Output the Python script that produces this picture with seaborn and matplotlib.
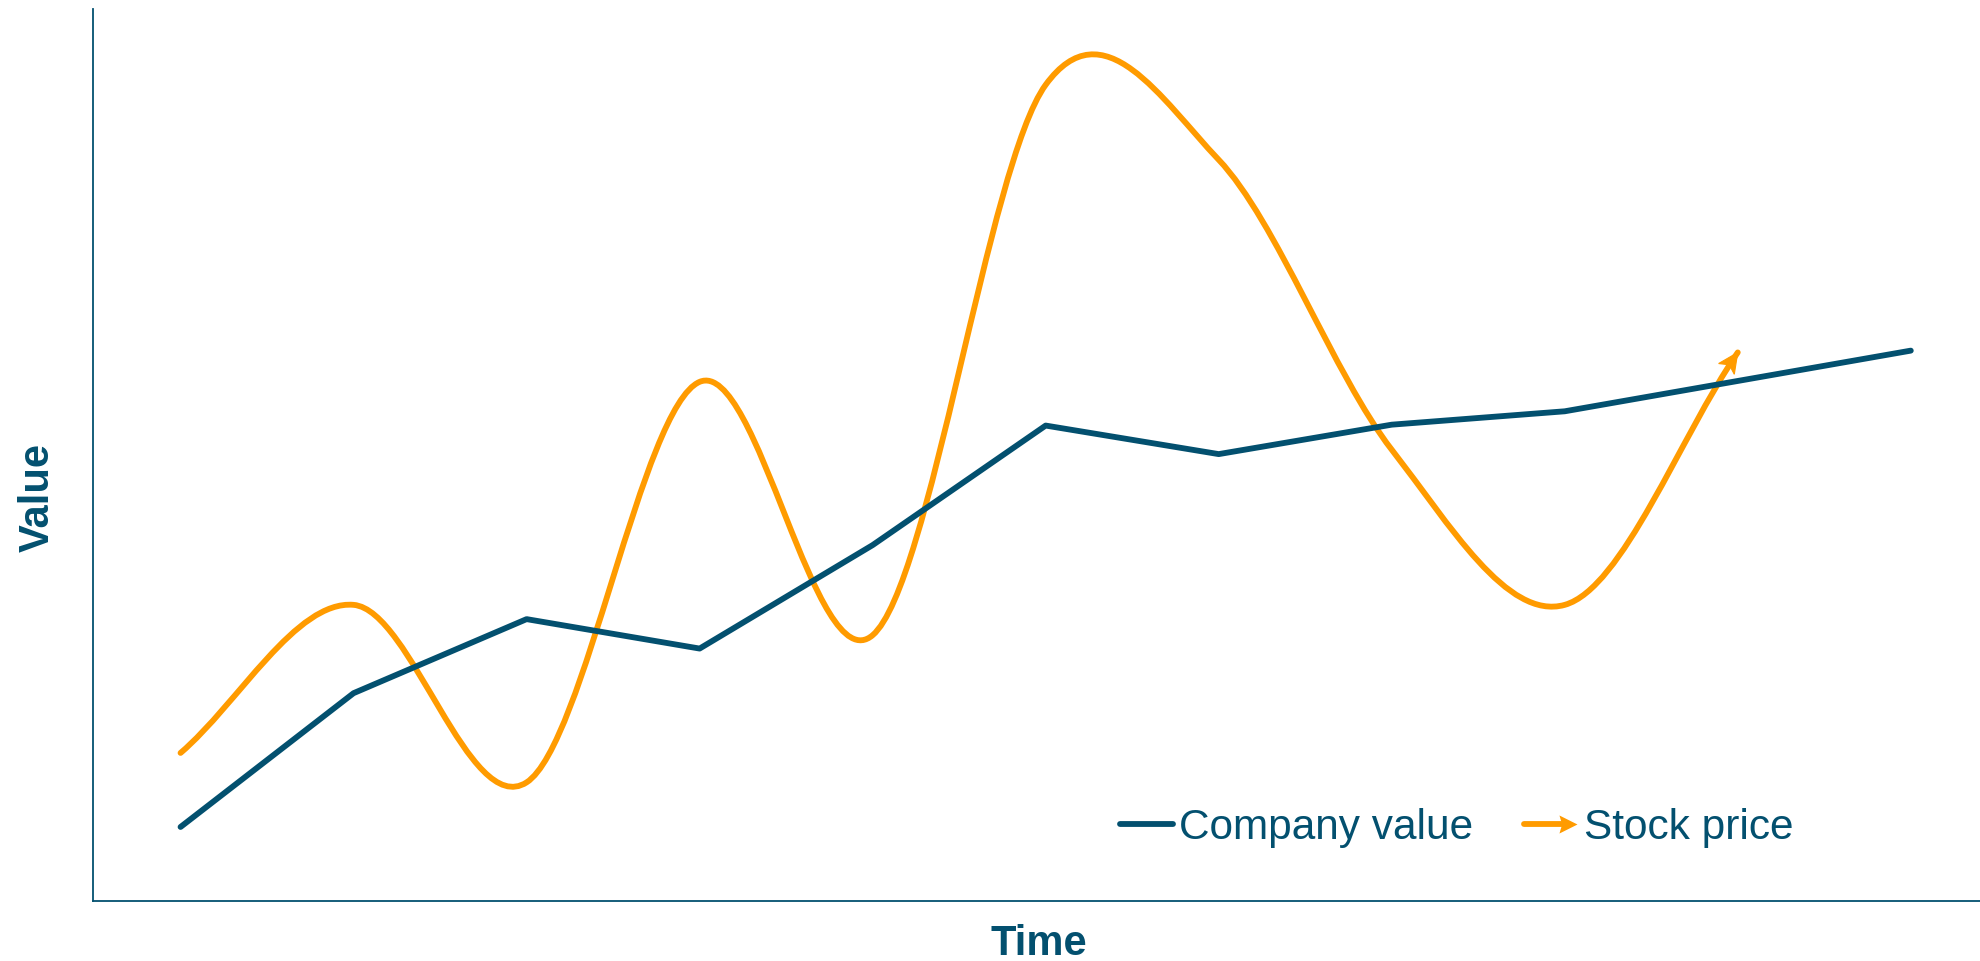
import numpy as np
import pandas as pd
import matplotlib
matplotlib.use("Agg")
import matplotlib.pyplot as plt
import seaborn as sns
from matplotlib.path import Path
from matplotlib.patches import PathPatch, Polygon
from matplotlib.legend_handler import HandlerBase
from matplotlib.lines import Line2D
from matplotlib.transforms import Affine2D

# ---- data ----
company_time = [0, 1, 2, 3, 4, 5, 6, 7, 8, 10]
company_value = [8.3, 23.3, 31.6, 28.3, 39.9, 53.3, 50.1, 53.4, 54.9, 61.7]
stock_time = [0, 1, 2, 3, 4, 5, 6, 7, 8, 9]
stock_value = [16.6, 33.2, 13.3, 58.2, 29.8, 91.5, 83.1, 50.6, 33.2, 61.5]
series_labels = ["Company value", "Stock price"]
x_label = "Time"
y_label = "Value"

BLUE = "#03506f"
ORANGE = "#ff9b00"
LW = 4.2

sns.set_theme(style="white")
plt.rcParams["font.family"] = ["Liberation Sans", "DejaVu Sans"]

W, H = 1980, 961
fig = plt.figure(figsize=(W / 100, H / 100), dpi=100)
ax = fig.add_axes([93 / W, 1 - 901 / H, 1 - 93 / W, (901 - 9) / H])
ax.set_xlim(-0.506, 10.40)
ax.set_ylim(0, 100)

df = pd.DataFrame({"Time": company_time, "Value": company_value})
sns.lineplot(data=df, x="Time", y="Value", ax=ax, color=BLUE, linewidth=LW,
             solid_capstyle="round", solid_joinstyle="round", legend=False)

# stock price as smooth Catmull-Rom style bezier through the points
xs = np.array(stock_time, dtype=float)
ys = np.array(stock_value, dtype=float)
m = np.empty_like(ys)
m[1:-1] = (ys[2:] - ys[:-2]) / (xs[2:] - xs[:-2])
m[0] = (ys[1] - ys[0]) / (xs[1] - xs[0])
m[-1] = (ys[-1] - ys[-2]) / (xs[-1] - xs[-2])
verts = [(xs[0], ys[0])]
codes = [Path.MOVETO]
for i in range(len(xs) - 1):
    dx = xs[i + 1] - xs[i]
    verts += [(xs[i] + dx / 3, ys[i] + m[i] * dx / 3),
              (xs[i + 1] - dx / 3, ys[i + 1] - m[i + 1] * dx / 3),
              (xs[i + 1], ys[i + 1])]
    codes += [Path.CURVE4] * 3
ax.add_patch(PathPatch(Path(verts, codes), fill=False, edgecolor=ORANGE,
                       linewidth=LW, capstyle="round", joinstyle="round"))

# stealth-style arrow head (tip at origin, pointing +x), sizes in pixels
HEAD = np.array([[0.0, 0.0], [-20.0, 9.5], [-15.0, 0.0], [-20.0, -9.5]])

# direction of the curve at its end, in display space
p1 = ax.transData.transform((xs[-1], ys[-1]))
p0 = ax.transData.transform((xs[-1] - 0.1, ys[-1] - m[-1] * 0.1))
ang = np.arctan2(p1[1] - p0[1], p1[0] - p0[0])
head_tr = Affine2D().rotate(ang).translate(p1[0], p1[1])
ax.add_patch(Polygon(head_tr.transform(HEAD), closed=True, transform=None,
                     facecolor=ORANGE, edgecolor=ORANGE, lw=0.8, zorder=3))

ax.set_xticks([])
ax.set_yticks([])
ax.set_xlabel("")
ax.set_ylabel("")
for s in ["top", "right"]:
    ax.spines[s].set_visible(False)
for s in ["left", "bottom"]:
    ax.spines[s].set_color(BLUE)
    ax.spines[s].set_linewidth(1.3)

fig.text(38 / W, 1 - 498 / H, y_label, rotation=90, ha="center", va="center",
         fontsize=30, fontweight="bold", color=BLUE)
fig.text(1039 / W, 1 - 955 / H, x_label, ha="center", va="baseline",
         fontsize=30, fontweight="bold", color=BLUE)

LEG_HEAD = Path(np.array([[0.0, 0.0], [-1.0, 0.5], [-0.85, 0.0], [-1.0, -0.5], [0.0, 0.0]]),
                [Path.MOVETO, Path.LINETO, Path.LINETO, Path.LINETO, Path.CLOSEPOLY])


class HandlerArrow(HandlerBase):
    def create_artists(self, legend, orig_handle, xdescent, ydescent, width,
                       height, fontsize, trans):
        y = height / 2 - ydescent
        x0, x1 = -xdescent, width - xdescent
        line = Line2D([x0, x1 - 8], [y, y], color=ORANGE, lw=LW,
                      solid_capstyle="round", transform=trans)
        head = Line2D([x1], [y], marker=LEG_HEAD, markersize=26,
                      color=ORANGE, markeredgewidth=0, linestyle="none",
                      transform=trans)
        return [line, head]


arrow_proxy = Line2D([], [], color=ORANGE)
handles = [Line2D([], [], color=BLUE, lw=LW, solid_capstyle="round"), arrow_proxy]
leg = ax.legend(handles, series_labels, ncol=2, frameon=False, fontsize=30.5,
                loc="center left", bbox_to_anchor=(1120 / W, 1 - 828 / H),
                bbox_transform=fig.transFigure, borderpad=0, borderaxespad=0,
                handlelength=1.25, handletextpad=0.15, columnspacing=1.2,
                handler_map={arrow_proxy: HandlerArrow()})
for t in leg.get_texts():
    t.set_color(BLUE)

fig.savefig("out.png", dpi=100)
